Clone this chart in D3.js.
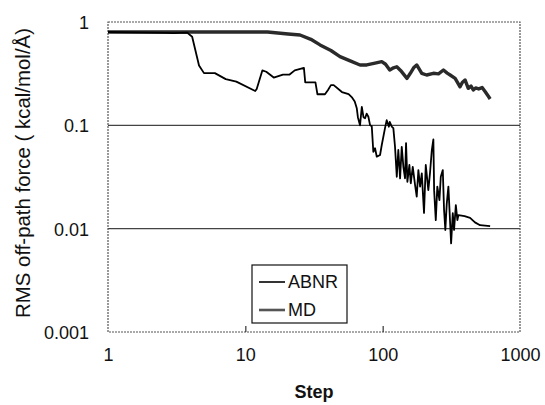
<!DOCTYPE html>
<html><head><meta charset="utf-8">
<script src="https://cdn.jsdelivr.net/npm/d3@7"></script>
<style>body{margin:0;background:#fff}svg{display:block}text{font-family:"Liberation Sans",Arial,sans-serif}</style>
</head><body><div id="chart"></div>
<script>
const xTicks = [1, 10, 100, 1000];
const yTicks = [0.001, 0.01, 0.1, 1];
const yTickLabels = ["0.001", "0.01", "0.1", "1"];
const seriesNames = ["ABNR", "MD"];

const abnrSteps = [1, 2.6, 3.0, 3.77, 4.1, 4.6, 5.0, 6.0, 7.2, 8.6, 11.8, 12.1, 13.3, 14.2, 16.1, 18.8, 21, 22.9, 26.7, 27.3, 32.4, 33.5, 38, 40, 42, 44, 50.5, 56.5, 60, 62.6, 64.8, 66, 68.4, 70.5, 72.5, 74.5, 76.5, 78.7, 81, 83.3, 85.5, 88, 90.6, 95.7, 98.5, 104, 107, 111, 112.6, 116.5, 119.6, 123, 126.7, 130, 133.9, 137.7, 141.5, 145.5, 148, 151.3, 156.5, 160.2, 165.6, 172.2, 177, 182, 187.3, 192.7, 200, 206, 215, 221, 228, 234, 237, 243.6, 250, 259, 265, 274, 280, 286, 293, 301, 310, 315, 324, 331, 341, 350, 356, 395, 433, 470, 512, 606];
const abnrValues = [0.80, 0.785, 0.78, 0.79, 0.72, 0.38, 0.32, 0.32, 0.28, 0.265, 0.215, 0.225, 0.34, 0.33, 0.29, 0.31, 0.31, 0.34, 0.36, 0.26, 0.26, 0.20, 0.20, 0.22, 0.245, 0.245, 0.21, 0.20, 0.185, 0.17, 0.146, 0.12, 0.10, 0.151, 0.12, 0.117, 0.13, 0.121, 0.10, 0.098, 0.0555, 0.06, 0.0497, 0.0516, 0.0645, 0.094, 0.112, 0.097, 0.108, 0.097, 0.094, 0.062, 0.0318, 0.0577, 0.0307, 0.062, 0.0397, 0.0307, 0.0674, 0.0284, 0.0413, 0.0275, 0.0397, 0.0264, 0.0204, 0.0369, 0.0255, 0.0343, 0.0142, 0.0413, 0.0236, 0.0343, 0.0577, 0.0732, 0.0236, 0.0121, 0.0255, 0.0189, 0.0318, 0.0369, 0.0151, 0.0097, 0.0176, 0.0255, 0.0113, 0.0072, 0.0141, 0.0097, 0.0169, 0.0121, 0.0135, 0.0132, 0.0127, 0.0115, 0.0108, 0.0106];

const mdSteps = [1, 10, 14.5, 20.5, 25, 30, 35, 42, 48.9, 58, 68.4, 76.6, 88, 98.5, 105, 112.6, 120, 126.7, 135, 150.3, 159, 168, 177, 192.7, 209, 234, 255, 277, 295, 310, 337, 366, 380, 398, 420, 440, 457, 475, 500, 530, 560, 590, 606];
const mdValues = [0.80, 0.80, 0.80, 0.765, 0.748, 0.68, 0.60, 0.53, 0.462, 0.42, 0.384, 0.384, 0.40, 0.413, 0.39, 0.343, 0.36, 0.369, 0.34, 0.285, 0.319, 0.36, 0.384, 0.319, 0.307, 0.319, 0.315, 0.343, 0.32, 0.307, 0.285, 0.236, 0.26, 0.275, 0.228, 0.24, 0.22, 0.23, 0.225, 0.232, 0.21, 0.19, 0.18];

const abnr = abnrSteps.map((s, i) => ({x: s, y: abnrValues[i]}));
const md = mdSteps.map((s, i) => ({x: s, y: mdValues[i]}));

const W = 545, H = 405;
const L = 108, R = 520, T = 22, B = 332;
const svg = d3.select("#chart").append("svg").attr("width", W).attr("height", H);
const x = d3.scaleLog().domain([1, 1000]).range([L, R]);
const y = d3.scaleLog().domain([0.001, 1]).range([B, T]);

// gridlines
svg.append("g").selectAll("line").data([0.01, 0.1]).join("line")
  .attr("x1", L).attr("x2", R).attr("y1", d => y(d)).attr("y2", d => y(d))
  .attr("stroke", "#444").attr("stroke-width", 1.2);

// frame
svg.append("rect").attr("x", L).attr("y", T).attr("width", R - L).attr("height", B - T)
  .attr("fill", "none").attr("stroke", "#555").attr("stroke-width", 1.2).attr("stroke-dasharray", "2,1");

// x axis ticks (inward)
const xAxis = d3.axisBottom(x).tickValues(xTicks).tickSize(-6).tickFormat(d3.format("d"));
const gx = svg.append("g").attr("transform", `translate(0,${B})`).call(xAxis);
gx.select(".domain").remove();
gx.selectAll(".tick line").attr("stroke", "#333").attr("stroke-width", 1.2)
  .filter(d => d === 1 || d === 1000).remove();
gx.selectAll(".tick text").attr("font-size", 18).attr("fill", "#111").attr("dy", "0.36em").attr("y", 23);

const yAxis = d3.axisLeft(y).tickValues(yTicks).tickSize(0).tickFormat((d, i) => yTickLabels[i]);
const gy = svg.append("g").attr("transform", `translate(${L},0)`).call(yAxis);
gy.select(".domain").remove();
gy.selectAll(".tick text").attr("font-size", 18).attr("fill", "#111").attr("x", -19).attr("dy", "0.36em");

// lines
const line = d3.line().x(d => x(d.x)).y(d => y(d.y));
svg.append("path").datum(md).attr("d", line).attr("fill", "none")
  .attr("stroke", "#2a2a2a").attr("stroke-width", 3.4).attr("stroke-linejoin", "round");
svg.append("path").datum(abnr).attr("d", line).attr("fill", "none")
  .attr("stroke", "#000").attr("stroke-width", 1.8).attr("stroke-linejoin", "round");

// titles
svg.append("text").attr("x", x(31.6)).attr("y", 392).attr("dy", "0.36em").attr("text-anchor", "middle")
  .attr("font-size", 18).attr("font-weight", "bold").attr("fill", "#111").text("Step");
const yt = svg.append("text").attr("transform", `translate(23,173) rotate(-90)`)
  .attr("text-anchor", "middle").attr("dy", "0.36em").attr("font-size", 20).attr("fill", "#111")
  .text("RMS off-path force ( kcal/mol/Å)");
const len = yt.node().getComputedTextLength();
yt.attr("font-size", 20 * 290 / len);

// legend
const lg = svg.append("g");
lg.append("rect").attr("x", 252).attr("y", 265).attr("width", 95).attr("height", 58)
  .attr("fill", "#fff").attr("stroke", "#111").attr("stroke-width", 1.2);
const items = [{name: seriesNames[0], w: 1.6, c: "#000"}, {name: seriesNames[1], w: 2.6, c: "#555"}];
items.forEach((it, i) => {
  const yy = 282 + i * 28;
  lg.append("line").attr("x1", 259).attr("x2", 285).attr("y1", yy).attr("y2", yy)
    .attr("stroke", it.c).attr("stroke-width", it.w);
  lg.append("text").attr("x", 288).attr("y", yy).attr("dy", "0.36em").attr("font-size", 18)
    .attr("fill", "#111").text(it.name);
});
</script></body></html>
